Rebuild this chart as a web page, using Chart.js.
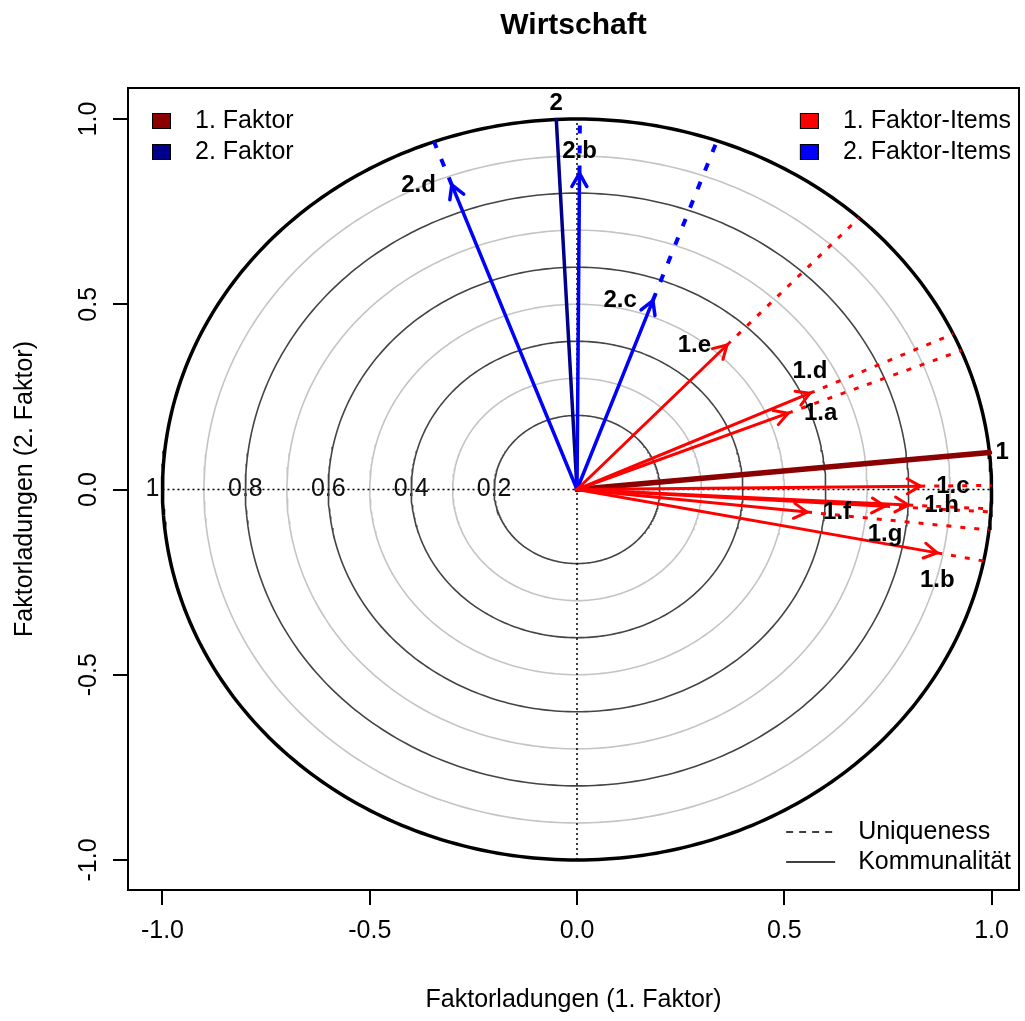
<!DOCTYPE html>
<html>
<head>
<meta charset="utf-8">
<script src="https://cdn.jsdelivr.net/npm/chart.js@4/dist/chart.umd.min.js"></script>
<style>
  html, body { margin: 0; padding: 0; background: #ffffff; }
  canvas { display: block; }
</style>
</head>
<body>
<canvas id="chart" width="1025" height="1021"></canvas>
<script>
// ---- chart data ---------------------------------------------------------
const chartTitle = 'Wirtschaft';
const xAxisTitle = 'Faktorladungen (1. Faktor)';
const yAxisTitle = 'Faktorladungen (2. Faktor)';
const axisTicks = [-1, -0.5, 0, 0.5, 1];
const axisTickLabels = ['-1.0', '-0.5', '0.0', '0.5', '1.0'];

// rotated factor axes
const factorNames = ['1', '2'];
const factorLegend = ['1. Faktor', '2. Faktor'];
const factorX = [0.995, -0.050];
const factorY = [0.100, 0.999];
const factorLabelSide = ['right', 'top'];

// item loadings (x = 1. Faktor, y = 2. Faktor)
const itemNames = ['1.a', '1.b', '1.c', '1.d', '1.e', '1.f', '1.g', '1.h', '2.b', '2.c', '2.d'];
const itemX = [0.509, 0.869, 0.828, 0.562, 0.362, 0.555, 0.743, 0.799, 0.006, 0.183, -0.302];
const itemY = [0.206, -0.171, 0.009, 0.260, 0.390, -0.061, -0.045, -0.042, 0.853, 0.510, 0.822];
const itemFactor = [1, 1, 1, 1, 1, 1, 1, 1, 2, 2, 2];
const itemLabelSide = ['right', 'bottom', 'right', 'top', 'left', 'right', 'bottom', 'right', 'top', 'left', 'left'];
const itemLegend = ['1. Faktor-Items', '2. Faktor-Items'];

// reference rings
const ringRadii = [0.2, 0.3, 0.4, 0.5, 0.6, 0.7, 0.8, 0.9, 1.0];
const ringLabelRadii = [0.2, 0.4, 0.6, 0.8, 1.0];
const ringLabels = ['0.2', '0.4', '0.6', '0.8', '1'];
const lineLegend = ['Uniqueness', 'Kommunalität'];

// ---- styling ------------------------------------------------------------
const FONT = "'Liberation Sans', Arial, Helvetica, sans-serif";
const factorColors = ['#8b0000', '#00008b'];
const itemColors = ['#ff0000', '#0000ff'];

function ringPoints(r) {
  const pts = [];
  for (let a = 0; a <= 360; a += 1) {
    const t = a * Math.PI / 180;
    pts.push({ x: r * Math.cos(t), y: r * Math.sin(t) });
  }
  return pts;
}

function lineSet(points, color, width, dash, order) {
  return {
    data: points,
    showLine: true,
    borderColor: color,
    borderWidth: width,
    borderDash: dash || [],
    borderCapStyle: dash ? 'butt' : 'round',
    pointRadius: 0,
    pointHoverRadius: 0,
    fill: false,
    tension: 0,
    order: order
  };
}

const datasets = [];

ringRadii.forEach(r => {
  const major = Math.abs(r - 1) < 1e-9;
  const even = Math.round(r * 10) % 2 === 0;
  const color = major ? '#000000' : (even ? '#444444' : '#c4c4c4');
  datasets.push(lineSet(ringPoints(r), color, major ? 3.5 : 1.6, null, 60));
});

// dotted axes through the origin
datasets.push(lineSet([{ x: -1, y: 0 }, { x: 1, y: 0 }], '#000000', 1.5, [2, 3], 50));
datasets.push(lineSet([{ x: 0, y: -1 }, { x: 0, y: 1 }], '#000000', 1.5, [2, 3], 50));

// factor axes
factorX.forEach((fx, i) => {
  datasets.push(lineSet([{ x: 0, y: 0 }, { x: fx, y: factorY[i] }], factorColors[i], i === 0 ? 5.5 : 3.5, null, 40));
});

// items: uniqueness continuation to the unit ring, then the loading arrow
itemNames.forEach((name, i) => {
  const x = itemX[i], y = itemY[i];
  const len = Math.hypot(x, y);
  const f = itemFactor[i] - 1;
  const dash = f === 0 ? [5, 9] : [8, 12];
  datasets.push(lineSet([{ x: x, y: y }, { x: x / len, y: y / len }], itemColors[f], f === 0 ? 3 : 4, dash, 30));
  datasets.push(lineSet([{ x: 0, y: 0 }, { x: x, y: y }], itemColors[f], f === 0 ? 3 : 3.5, null, 20));
});

// ---- drawing helpers ----------------------------------------------------
function placeLabel(ctx, px, py, side, gap, vGapTop, vGapBottom) {
  ctx.textBaseline = 'middle';
  if (side === 'right') { ctx.textAlign = 'left'; return [px + gap, py]; }
  if (side === 'left') { ctx.textAlign = 'right'; return [px - gap, py]; }
  ctx.textAlign = 'center';
  if (side === 'top') return [px, py - vGapTop];
  return [px, py + vGapBottom];
}

const decorations = {
  id: 'decorations',
  beforeDatasetsDraw(chart) {
    const { ctx, scales: { x: xs, y: ys } } = chart;
    ctx.save();
    ctx.fillStyle = '#111111';
    ctx.font = '25px ' + FONT;
    ctx.textAlign = 'center';
    ctx.textBaseline = 'middle';
    ringLabelRadii.forEach((r, i) => {
      let px = xs.getPixelForValue(-r);
      if (Math.abs(r - 1) < 1e-9) px -= 10;
      ctx.fillText(ringLabels[i], px, ys.getPixelForValue(0));
    });
    ctx.restore();
  },
  afterDatasetsDraw(chart) {
    const { ctx, scales: { x: xs, y: ys } } = chart;
    const ox = xs.getPixelForValue(0), oy = ys.getPixelForValue(0);
    ctx.save();
    // arrow heads
    itemNames.forEach((name, i) => {
      const f = itemFactor[i] - 1;
      const tx = xs.getPixelForValue(itemX[i]), ty = ys.getPixelForValue(itemY[i]);
      const ang = Math.atan2(ty - oy, tx - ox);
      const hl = 15, ha = Math.PI / 6;
      ctx.strokeStyle = itemColors[f];
      ctx.lineWidth = f === 0 ? 3 : 3.5;
      ctx.lineCap = 'round';
      ctx.lineJoin = 'round';
      ctx.beginPath();
      ctx.moveTo(tx - hl * Math.cos(ang - ha), ty - hl * Math.sin(ang - ha));
      ctx.lineTo(tx, ty);
      ctx.lineTo(tx - hl * Math.cos(ang + ha), ty - hl * Math.sin(ang + ha));
      ctx.stroke();
    });
    // item labels
    ctx.fillStyle = '#000000';
    ctx.font = 'bold 24px ' + FONT;
    itemNames.forEach((name, i) => {
      const tx = xs.getPixelForValue(itemX[i]), ty = ys.getPixelForValue(itemY[i]);
      const [lx, ly] = placeLabel(ctx, tx, ty, itemLabelSide[i], 16, 22, 28);
      ctx.fillText(name, lx, ly);
    });
    // factor labels
    factorNames.forEach((name, i) => {
      const tx = xs.getPixelForValue(factorX[i]), ty = ys.getPixelForValue(factorY[i]);
      const [lx, ly] = placeLabel(ctx, tx, ty, factorLabelSide[i], 6, 16, 16);
      ctx.fillText(name, lx, ly);
    });
    ctx.restore();
  },
  afterDraw(chart) {
    const { ctx, chartArea: ca, scales: { y: ys } } = chart;
    ctx.save();
    // plot frame
    ctx.strokeStyle = '#000000';
    ctx.lineWidth = 2;
    ctx.strokeRect(ca.left, ca.top, ca.right - ca.left, ca.bottom - ca.top);

    // y tick labels, parallel to the axis
    ctx.fillStyle = '#000000';
    ctx.font = '25px ' + FONT;
    ctx.textAlign = 'center';
    ctx.textBaseline = 'middle';
    axisTicks.forEach((v, i) => {
      ctx.save();
      ctx.translate(ca.left - 39, ys.getPixelForValue(v));
      ctx.rotate(-Math.PI / 2);
      ctx.fillText(axisTickLabels[i], 0, 0);
      ctx.restore();
    });

    // title
    ctx.font = 'bold 30px ' + FONT;
    ctx.fillText(chartTitle, (ca.left + ca.right) / 2, 26);

    // legend: factors (top left)
    ctx.font = '25px ' + FONT;
    ctx.textAlign = 'left';
    ctx.lineWidth = 1;
    factorLegend.forEach((t, i) => {
      const cy = ca.top + 33 + i * 31;
      ctx.fillStyle = factorColors[i];
      ctx.fillRect(ca.left + 24, cy - 8, 19, 16);
      ctx.strokeStyle = '#000000';
      ctx.strokeRect(ca.left + 24.5, cy - 7.5, 18, 15);
      ctx.fillStyle = '#000000';
      ctx.fillText(t, ca.left + 67, cy);
    });

    // legend: items (top right)
    const iw = Math.max(...itemLegend.map(t => ctx.measureText(t).width));
    const itx = ca.right - 8 - iw;
    itemLegend.forEach((t, i) => {
      const cy = ca.top + 33 + i * 31;
      ctx.fillStyle = itemColors[i];
      ctx.fillRect(itx - 43, cy - 8, 19, 16);
      ctx.strokeStyle = '#000000';
      ctx.strokeRect(itx - 42.5, cy - 7.5, 18, 15);
      ctx.fillStyle = '#000000';
      ctx.fillText(t, itx, cy);
    });

    // legend: line types (bottom right)
    const lw = Math.max(...lineLegend.map(t => ctx.measureText(t).width));
    const ltx = ca.right - 8 - lw;
    lineLegend.forEach((t, i) => {
      const cy = ca.bottom - 58 + i * 30;
      ctx.strokeStyle = '#000000';
      ctx.lineWidth = 1.5;
      ctx.setLineDash(i === 0 ? [7, 6] : []);
      ctx.beginPath();
      ctx.moveTo(ltx - 72, cy);
      ctx.lineTo(ltx - 23, cy);
      ctx.stroke();
      ctx.setLineDash([]);
      ctx.fillStyle = '#000000';
      ctx.fillText(t, ltx, cy);
    });
    ctx.restore();
  }
};

const fixedTicks = scale => {
  scale.ticks = axisTicks.map(v => ({ value: v }));
};

new Chart(document.getElementById('chart'), {
  type: 'scatter',
  data: { datasets: datasets },
  options: {
    responsive: false,
    animation: false,
    devicePixelRatio: 1,
    events: [],
    layout: { padding: { top: 88, right: 6, bottom: 0, left: 0 } },
    plugins: {
      legend: { display: false },
      tooltip: { enabled: false },
      title: { display: false }
    },
    scales: {
      x: {
        type: 'linear',
        min: -1.0832,
        max: 1.0663,
        afterBuildTicks: fixedTicks,
        afterFit: s => { s.height = 131; },
        border: { display: false },
        grid: { drawOnChartArea: false, drawTicks: true, tickLength: 15, color: '#000000', lineWidth: 2 },
        ticks: {
          padding: 11,
          maxRotation: 0,
          autoSkip: false,
          color: '#000000',
          font: { family: FONT, size: 25 },
          callback: (v, i) => axisTickLabels[i]
        },
        title: {
          display: true,
          text: xAxisTitle,
          color: '#000000',
          font: { family: FONT, size: 25 },
          padding: { top: 0, bottom: 6 }
        }
      },
      y: {
        type: 'linear',
        min: -1.081,
        max: 1.0837,
        afterBuildTicks: fixedTicks,
        afterFit: s => { s.width = 128; },
        border: { display: false },
        grid: { drawOnChartArea: false, drawTicks: true, tickLength: 15, color: '#000000', lineWidth: 2 },
        ticks: { display: false },
        title: {
          display: true,
          text: yAxisTitle,
          color: '#000000',
          font: { family: FONT, size: 25 },
          padding: { top: 10, bottom: 0 }
        }
      }
    }
  },
  plugins: [decorations]
});
</script>
</body>
</html>
